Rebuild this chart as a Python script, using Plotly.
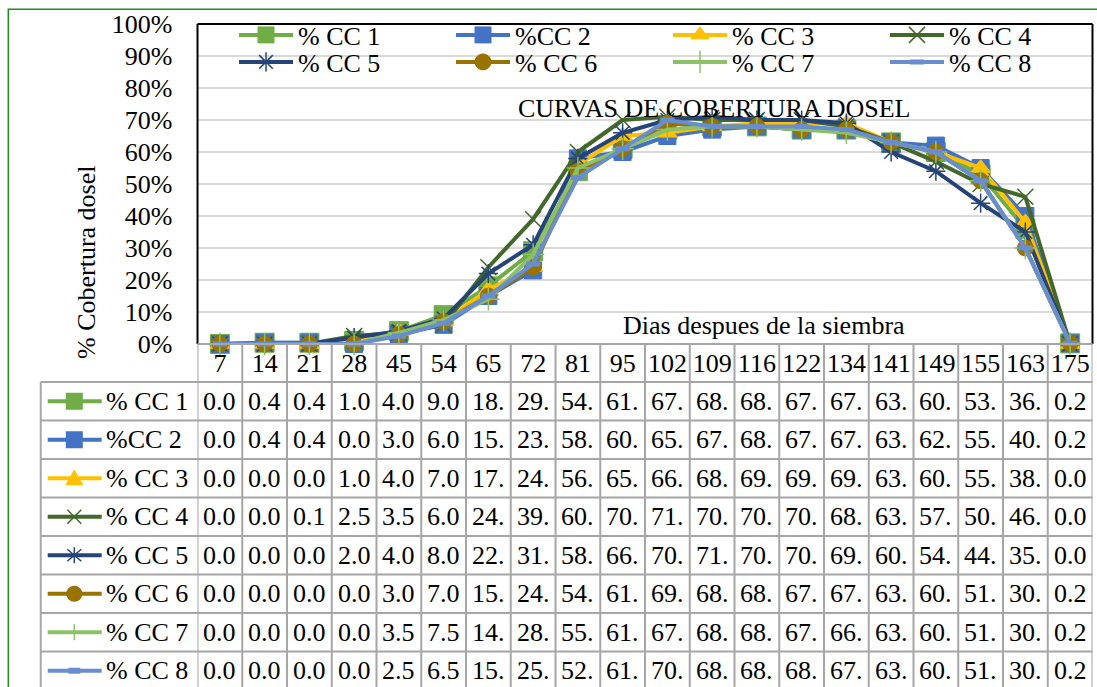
import plotly.graph_objects as go

# ---------------- data ----------------
days = ["7", "14", "21", "28", "45", "54", "65", "72", "81", "95",
        "102", "109", "116", "122", "134", "141", "149", "155", "163", "175"]

cc1 = [0.0, 0.4, 0.4, 1.0, 4.0, 9.0, 18, 29, 54, 61, 67, 68, 68, 67, 67, 63, 60, 53, 36, 0.2]
cc2 = [0.0, 0.4, 0.4, 0.0, 3.0, 6.0, 15, 23, 58, 60, 65, 67, 68, 67, 67, 63, 62, 55, 40, 0.2]
cc3 = [0.0, 0.0, 0.0, 1.0, 4.0, 7.0, 17, 24, 56, 65, 66, 68, 69, 69, 69, 63, 60, 55, 38, 0.0]
cc4 = [0.0, 0.0, 0.1, 2.5, 3.5, 6.0, 24, 39, 60, 70, 71, 70, 70, 70, 68, 63, 57, 50, 46, 0.0]
cc5 = [0.0, 0.0, 0.0, 2.0, 4.0, 8.0, 22, 31, 58, 66, 70, 71, 70, 70, 69, 60, 54, 44, 35, 0.0]
cc6 = [0.0, 0.0, 0.0, 0.0, 3.0, 7.0, 15, 24, 54, 61, 69, 68, 68, 67, 67, 63, 60, 51, 30, 0.2]
cc7 = [0.0, 0.0, 0.0, 0.0, 3.5, 7.5, 14, 28, 55, 61, 67, 68, 68, 67, 66, 63, 60, 51, 30, 0.2]
cc8 = [0.0, 0.0, 0.0, 0.0, 2.5, 6.5, 15, 25, 52, 61, 70, 68, 68, 68, 67, 63, 60, 51, 30, 0.2]

names = ["% CC 1", "%CC 2", "% CC 3", "% CC 4", "% CC 5", "% CC 6", "% CC 7", "% CC 8"]
series = [cc1, cc2, cc3, cc4, cc5, cc6, cc7, cc8]

title_text = "CURVAS DE COBERTURA DOSEL"
x_title = "Dias despues de la siembra"
y_title = "% Cobertura dosel"

# ---------------- styles / layout constants ----------------
colors = ["#70AD47", "#4472C4", "#FFC000", "#43682B",
          "#264478", "#997300", "#8CC168", "#698ED0"]

W, H = 1097, 687
PL, PR, PT, PB = 197.5, 1092.5, 24.0, 344.0   # plot area (px)
TL = 40.7                                     # table left edge (px)
HDR_B = 382.0                                 # bottom of header row (px)
ROW_H = 38.5
GRID_C = "#A6A6A6"
FONT = "Liberation Serif, Times New Roman, serif"
FS = 26


def fx(x):
    return x / W


def fy(y):
    return 1 - y / H


marker_specs = [
    dict(symbol="square", size=19, color=colors[0], line=dict(color=colors[0], width=1)),
    dict(symbol="square", size=17, color=colors[1], line=dict(color=colors[1], width=1)),
    dict(symbol="triangle-up", size=17, color=colors[2], line=dict(color=colors[2], width=1)),
    dict(symbol="x-thin-open", size=16, color=colors[3], line=dict(color=colors[3], width=1.5)),
    dict(symbol="asterisk-open", size=16, color=colors[4], line=dict(color=colors[4], width=1.5)),
    dict(symbol="circle", size=16, color=colors[5], line=dict(color=colors[5], width=1)),
    dict(symbol="cross-thin-open", size=16, color=colors[6], line=dict(color=colors[6], width=1.5)),
    dict(symbol="line-ew-open", size=10, color=colors[7], line=dict(color=colors[7], width=5)),
]

fig = go.Figure()
for i, (name, vals) in enumerate(zip(names, series)):
    extra = {}
    if i in (3, 7):
        extra["legendwidth"] = 90   # last column: keep legend inside the figure
    fig.add_trace(go.Scatter(
        x=days, y=vals, name=name, mode="lines+markers",
        line=dict(color=colors[i], width=4),
        marker=marker_specs[i], cliponaxis=False,
        legend="legend" if i < 4 else "legend2",
        **extra,
    ))

shapes = []
annotations = []

# plot-area border (black on left, top, right)
for (x0, y0, x1, y1) in [(PL, PT, PL, PB), (PL, PT, PR, PT), (PR, PT, PR, PB)]:
    shapes.append(dict(type="line", xref="paper", yref="paper",
                       x0=fx(x0), y0=fy(y0), x1=fx(x1), y1=fy(y1),
                       line=dict(color="black", width=2)))

# data table grid
n_rows = len(series)
shapes.append(dict(type="line", xref="paper", yref="paper",
                   x0=fx(PL), x1=fx(PR), y0=fy(PB), y1=fy(PB),
                   line=dict(color=GRID_C, width=2)))
for k in range(n_rows + 1):
    yy = HDR_B + k * ROW_H
    shapes.append(dict(type="line", xref="paper", yref="paper",
                       x0=fx(TL), x1=fx(PR), y0=fy(yy), y1=fy(yy),
                       line=dict(color=GRID_C, width=2)))
for c in range(len(days) + 1):
    shapes.append(dict(type="line", xref="x", yref="paper",
                       x0=c - 0.5, x1=c - 0.5, y0=fy(PB), y1=fy(H + 5),
                       line=dict(color=GRID_C, width=2)))
shapes.append(dict(type="line", xref="paper", yref="paper",
                   x0=fx(TL), x1=fx(TL), y0=fy(HDR_B), y1=fy(H + 5),
                   line=dict(color=GRID_C, width=2)))

# legend keys inside the data table
KX0, KX1, KC = 47.7, 101.7, 74.3
for r in range(n_rows):
    yc = HDR_B + (r + 0.5) * ROW_H
    col = colors[r]
    shapes.append(dict(type="line", xref="paper", yref="paper",
                       x0=fx(KX0), x1=fx(KX1), y0=fy(yc), y1=fy(yc),
                       line=dict(color=col, width=4)))
    if r in (0, 1):
        s = 8.5
        shapes.append(dict(type="rect", xref="paper", yref="paper",
                           x0=fx(KC - s), x1=fx(KC + s), y0=fy(yc - s), y1=fy(yc + s),
                           fillcolor=col, line=dict(color=col, width=0)))
    elif r == 2:
        path = "M{},{} L{},{} L{},{} Z".format(fx(KC), fy(yc - 9), fx(KC + 9), fy(yc + 7),
                                                fx(KC - 9), fy(yc + 7))
        shapes.append(dict(type="path", xref="paper", yref="paper", path=path,
                           fillcolor=col, line=dict(color=col, width=0)))
    elif r == 3:
        for d in (1, -1):
            shapes.append(dict(type="line", xref="paper", yref="paper",
                               x0=fx(KC - 7), x1=fx(KC + 7), y0=fy(yc - 7 * d), y1=fy(yc + 7 * d),
                               line=dict(color=col, width=1.5)))
    elif r == 4:
        shapes.append(dict(type="line", xref="paper", yref="paper",
                           x0=fx(KC), x1=fx(KC), y0=fy(yc - 8), y1=fy(yc + 8),
                           line=dict(color=col, width=1.5)))
        for d in (1, -1):
            shapes.append(dict(type="line", xref="paper", yref="paper",
                               x0=fx(KC - 7), x1=fx(KC + 7), y0=fy(yc - 6 * d), y1=fy(yc + 6 * d),
                               line=dict(color=col, width=1.5)))
    elif r == 5:
        s = 8
        shapes.append(dict(type="circle", xref="paper", yref="paper",
                           x0=fx(KC - s), x1=fx(KC + s), y0=fy(yc - s), y1=fy(yc + s),
                           fillcolor=col, line=dict(color=col, width=0)))
    elif r == 6:
        shapes.append(dict(type="line", xref="paper", yref="paper",
                           x0=fx(KC), x1=fx(KC), y0=fy(yc - 8), y1=fy(yc + 8),
                           line=dict(color=col, width=1.5)))
    elif r == 7:
        shapes.append(dict(type="rect", xref="paper", yref="paper",
                           x0=fx(KC - 6), x1=fx(KC + 6), y0=fy(yc - 3), y1=fy(yc + 3),
                           fillcolor=col, line=dict(color=col, width=0)))
    annotations.append(dict(text=names[r], xref="paper", yref="paper",
                            x=fx(103.5), y=fy(yc), xanchor="left", yanchor="middle",
                            showarrow=False, font=dict(size=FS)))
    for c, v in enumerate(series[r]):
        annotations.append(dict(text=f"{v:.1f}"[:3], xref="x", yref="paper",
                                x=c, y=fy(yc), xanchor="center", yanchor="middle",
                                showarrow=False, font=dict(size=FS)))

# outer chart border (green)
shapes.append(dict(type="rect", xref="paper", yref="paper",
                   x0=fx(8.3), x1=fx(W + 10), y0=fy(9.3), y1=fy(H + 10),
                   line=dict(color="#1E8C1E", width=1.5)))

# titles
annotations.append(dict(text=title_text, xref="paper", yref="paper",
                        x=fx(714), y=fy(108.7), xanchor="center", yanchor="middle",
                        showarrow=False, font=dict(size=FS)))
annotations.append(dict(text=x_title, xref="paper", yref="paper",
                        x=fx(764), y=fy(325), xanchor="center", yanchor="middle",
                        showarrow=False, font=dict(size=FS)))
annotations.append(dict(text=y_title, xref="paper", yref="paper",
                        x=fx(87), y=fy(262), xanchor="center", yanchor="middle",
                        textangle=-90, showarrow=False, font=dict(size=FS)))

legend_common = dict(orientation="h", xanchor="left", yanchor="middle",
                     bgcolor="rgba(0,0,0,0)", borderwidth=0, font=dict(size=FS),
                     itemwidth=54, entrywidth=148, entrywidthmode="pixels",
                     traceorder="normal")

fig.update_layout(
    template="none",
    autosize=False,
    width=W, height=H,
    margin=dict(l=0, r=0, t=0, b=0, pad=0),
    paper_bgcolor="white", plot_bgcolor="rgba(0,0,0,0)",
    font=dict(family=FONT, size=FS, color="black"),
    xaxis=dict(domain=[fx(PL), fx(PR)], type="category", range=[-0.5, len(days) - 0.5],
               automargin=False,
               ticks="", ticklabelstandoff=1,
               showgrid=False, showline=False, zeroline=False,
               tickfont=dict(size=FS)),
    yaxis=dict(domain=[fy(PB), fy(PT)], range=[0, 100], dtick=10, ticksuffix="%",
               automargin=False,
               showgrid=True, gridcolor="#D9D9D9", gridwidth=1.5, zeroline=False,
               showline=False, ticks="outside", ticklen=19,
               tickcolor="rgba(0,0,0,0)", tickfont=dict(size=FS)),
    legend=dict(x=fx(234), y=fy(35), **legend_common),
    legend2=dict(x=fx(234), y=fy(62), **legend_common),
    shapes=shapes,
    annotations=annotations,
)

fig.write_html("out.html", config={"responsive": False})
